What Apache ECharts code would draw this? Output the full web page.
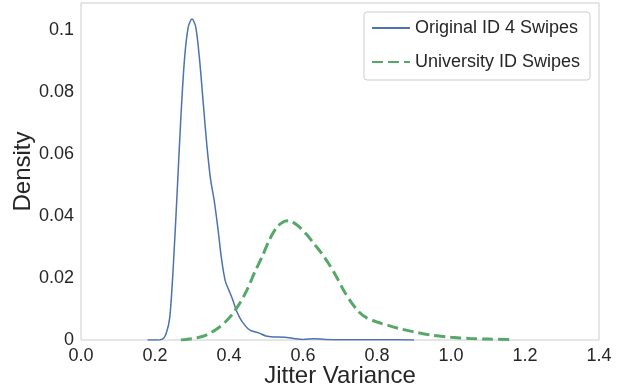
<!DOCTYPE html>
<html>
<head>
<meta charset="utf-8">
<script src="https://cdn.jsdelivr.net/npm/echarts@6/dist/echarts.min.js"></script>
<style>
  html, body { margin: 0; padding: 0; background: #fff; }
  #chart { width: 621px; height: 390px; }
</style>
</head>
<body>
<div id="chart"></div>
<script>
// density curves
const originalX = [0.18, 0.20, 0.22, 0.23, 0.24, 0.25, 0.26, 0.27, 0.28, 0.29, 0.30, 0.31, 0.32, 0.33, 0.34, 0.35, 0.36, 0.37, 0.38, 0.39, 0.40, 0.41, 0.42, 0.43, 0.44, 0.45, 0.46, 0.48, 0.50, 0.52, 0.55, 0.58, 0.60, 0.63, 0.66, 0.70, 0.80, 0.90];
const originalY = [0, 0, 0.0003, 0.002, 0.0074, 0.025, 0.048, 0.072, 0.091, 0.101, 0.1035, 0.101, 0.091, 0.077, 0.063, 0.052, 0.045, 0.036, 0.026, 0.019, 0.016, 0.013, 0.0095, 0.007, 0.0052, 0.0038, 0.003, 0.0023, 0.0013, 0.001, 0.0009, 0.0004, 0.0002, 0.0004, 0.0002, 0.0001, 0.0001, 0];

const universityX = [0.27, 0.30, 0.33, 0.35, 0.37, 0.39, 0.41, 0.43, 0.45, 0.47, 0.49, 0.51, 0.53, 0.55, 0.56, 0.57, 0.59, 0.61, 0.63, 0.65, 0.67, 0.69, 0.71, 0.73, 0.75, 0.77, 0.80, 0.83, 0.86, 0.90, 0.95, 1.00, 1.05, 1.10, 1.17];
const universityY = [0, 0.0004, 0.0012, 0.0023, 0.0038, 0.0058, 0.0085, 0.012, 0.0165, 0.022, 0.027, 0.0325, 0.0365, 0.0383, 0.0385, 0.0382, 0.0365, 0.034, 0.031, 0.028, 0.0245, 0.0205, 0.016, 0.0122, 0.0092, 0.0073, 0.0058, 0.0047, 0.0037, 0.0026, 0.0015, 0.0009, 0.0005, 0.0003, 0.0001];

const seriesNames = ['Original ID 4 Swipes', 'University ID Swipes'];

const pairs = (xs, ys) => xs.map((x, i) => [x, ys[i]]);

const textColor = '#262626';
const font = 'Liberation Sans, Arial, sans-serif';

const chart = echarts.init(document.getElementById('chart'));

chart.setOption({
  animation: false,
  textStyle: { fontFamily: font, color: textColor },
  grid: {
    left: 81, right: 22, top: 3, bottom: 50,
    containLabel: false,
    outerBoundsMode: 'none',
    show: true, borderColor: '#cccccc', borderWidth: 1
  },
  legend: {
    orient: 'vertical',
    right: 31,
    top: 12,
    padding: [7, 10, 9, 7],
    itemGap: 16,
    itemWidth: 38,
    itemHeight: 14,
    itemTextGap: 15,
    backgroundColor: '#fff',
    borderColor: '#cccccc',
    borderWidth: 1,
    borderRadius: 3,
    itemStyle: { opacity: 0 },
    textStyle: { fontSize: 18, color: textColor, fontFamily: font },
    data: seriesNames
  },
  xAxis: {
    type: 'value',
    min: 0,
    max: 1.4,
    interval: 0.2,
    name: 'Jitter Variance',
    nameLocation: 'middle',
    nameGap: 24,
    nameMoveOverlap: false,
    nameTextStyle: { fontSize: 24, color: textColor },
    axisLine: { show: false },
    axisTick: { show: false },
    splitLine: { show: false },
    axisLabel: { fontSize: 18, color: textColor, margin: 7, formatter: v => v.toFixed(1) }
  },
  yAxis: {
    type: 'value',
    min: 0,
    max: 0.1087,
    interval: 0.02,
    name: 'Density',
    nameLocation: 'middle',
    nameGap: 46,
    nameMoveOverlap: false,
    nameTextStyle: { fontSize: 24, color: textColor },
    axisLine: { show: false },
    axisTick: { show: false },
    splitLine: { show: false },
    axisLabel: {
      fontSize: 18, color: textColor, margin: 7,
      formatter: v => (v > 0.1001 ? '' : String(parseFloat(v.toFixed(2))))
    }
  },
  series: [
    {
      name: seriesNames[0],
      type: 'line',
      smooth: 0.3,
      showSymbol: false,
      symbol: 'none',
      data: pairs(originalX, originalY),
      itemStyle: { color: '#4c72b0' },
      lineStyle: { color: '#4c72b0', width: 1.5 }
    },
    {
      name: seriesNames[1],
      type: 'line',
      smooth: 0.3,
      showSymbol: false,
      symbol: 'none',
      data: pairs(universityX, universityY),
      itemStyle: { color: '#55a868' },
      lineStyle: { color: '#55a868', width: 3, type: [11, 5] }
    }
  ]
});

window.addEventListener('resize', () => chart.resize());
</script>
</body>
</html>
